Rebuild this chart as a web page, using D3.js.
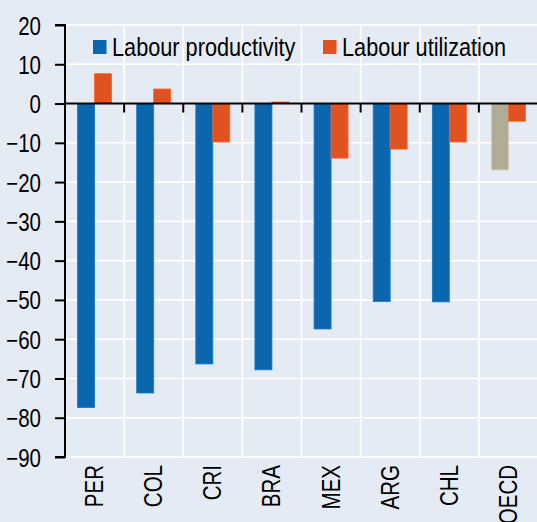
<!DOCTYPE html>
<html><head><meta charset="utf-8">
<script src="https://cdn.jsdelivr.net/npm/d3@7"></script>
<style>
html,body{margin:0;padding:0;background:#e5ebf4;}
svg{display:block;}
text{font-family:"Liberation Sans",Arial,sans-serif;fill:#000;}
</style></head>
<body>
<svg id="c" width="537" height="522"></svg>
<script>
const categories = ["PER","COL","CRI","BRA","MEX","ARG","CHL","OECD"];
const seriesNames = ["Labour productivity","Labour utilization"];
const productivity = [-77.4,-73.7,-66.3,-67.8,-57.4,-50.4,-50.5,-16.9];
const utilization = [7.6,3.7,-9.8,0.4,-13.9,-11.6,-9.8,-4.5];
const yTicks = [20,10,0,-10,-20,-30,-40,-50,-60,-70,-80,-90];

const colBlue = "#0b66ae", colOrange = "#e0521f", colGrey = "#b1ad95";
const svg = d3.select("#c");
const L = 65, R = 538, T = 25, B = 457;
const SX = 0.82, FS = 25;

const x = d3.scaleBand().domain(categories).range([L, R]).paddingInner(0).paddingOuter(0);
const x1 = d3.scaleBand().domain(seriesNames).range([0, x.bandwidth()]).paddingInner(0).paddingOuter(0.74);
const y = d3.scaleLinear().domain([-90, 20]).range([B, T]);

// gridlines
const g = svg.append("g");
g.selectAll("line.h").data(yTicks).join("line")
  .attr("x1", L).attr("x2", 537).attr("y1", d => y(d)).attr("y2", d => y(d))
  .attr("stroke", "#fff").attr("stroke-width", 1.6);
g.selectAll("line.v").data(categories.slice(1)).join("line")
  .attr("x1", d => x(d)).attr("x2", d => x(d)).attr("y1", T).attr("y2", B)
  .attr("stroke", "#fff").attr("stroke-width", 1.6);

// bars
const data = [];
categories.forEach((c, i) => {
  data.push({c, s: seriesNames[0], v: productivity[i], col: c === "OECD" ? colGrey : colBlue});
  data.push({c, s: seriesNames[1], v: utilization[i], col: colOrange});
});
svg.append("g").selectAll("rect").data(data).join("rect")
  .attr("x", d => x(d.c) + x1(d.s))
  .attr("width", x1.bandwidth())
  .attr("y", d => y(Math.max(0, d.v)))
  .attr("height", d => Math.abs(y(d.v) - y(0)))
  .attr("fill", d => d.col)
  .attr("stroke", d => d3.color(d.col).brighter(0.5))
  .attr("stroke-width", 0.8);

// y axis
const ya = svg.append("g").attr("transform", `translate(${L},0)`)
  .call(d3.axisLeft(y).tickValues(yTicks).tickSize(10).tickPadding(14).tickFormat(d3.format("d")));
ya.select(".domain").attr("stroke", "#000").attr("stroke-width", 2).attr("d", `M-10,${T}H0V${B}H-10`);
ya.selectAll(".tick line").attr("stroke", "#000").attr("stroke-width", 2);
ya.selectAll(".tick text").attr("font-size", FS).attr("font-family", null)
  .attr("x", 0).attr("dy", "0.36em")
  .attr("transform", `translate(-24,0) scale(${SX},1)`);

// zero line and ticks
svg.append("line").attr("x1", L).attr("x2", 537).attr("y1", y(0)).attr("y2", y(0))
  .attr("stroke", "#000").attr("stroke-width", 2);
svg.append("g").selectAll("line").data(categories.slice(1)).join("line")
  .attr("x1", d => x(d)).attr("x2", d => x(d)).attr("y1", y(0)).attr("y2", y(0) + 9)
  .attr("stroke", "#000").attr("stroke-width", 2);

// category labels
svg.append("g").selectAll("text").data(categories).join("text")
  .attr("transform", d => `translate(${x(d) + x.bandwidth() / 2 + 8.5},465) rotate(-90) scale(${SX},1)`)
  .attr("text-anchor", "end").attr("font-size", FS).text(d => d);

// legend
const leg = [{name: seriesNames[0], col: colBlue, x: 93}, {name: seriesNames[1], col: colOrange, x: 323}];
const lg = svg.append("g").selectAll("g").data(leg).join("g")
  .attr("transform", d => `translate(${d.x},40)`);
lg.append("rect").attr("width", 13.5).attr("height", 14).attr("fill", d => d.col);
lg.append("text").attr("transform", `translate(19,15.5) scale(0.835,1)`).attr("font-size", 26).text(d => d.name);
</script>
</body></html>
